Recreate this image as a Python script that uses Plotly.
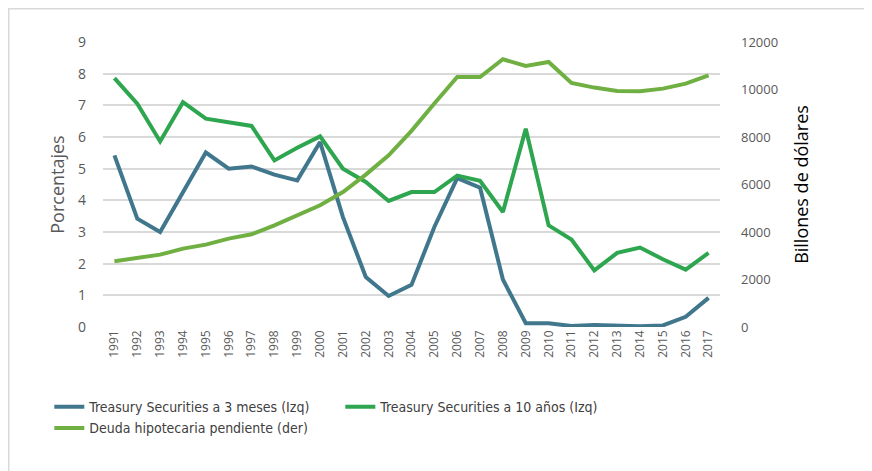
import plotly.graph_objects as go

years = [str(y) for y in range(1991, 2018)]
t3m = [5.42, 3.42, 3.00, 4.26, 5.51, 5.00, 5.07, 4.81, 4.63, 5.84, 3.47, 1.58, 0.98, 1.33,
       3.16, 4.70, 4.40, 1.50, 0.12, 0.12, 0.03, 0.06, 0.04, 0.02, 0.05, 0.32, 0.92]
t10y = [7.86, 7.05, 5.86, 7.10, 6.58, 6.47, 6.35, 5.26, 5.66, 6.02, 5.00, 4.58, 3.98, 4.26,
        4.26, 4.78, 4.62, 3.63, 6.26, 3.21, 2.76, 1.79, 2.34, 2.51, 2.14, 1.81, 2.34]
deuda = [2767, 2906, 3048, 3300, 3469, 3722, 3904, 4283, 4704, 5125, 5685, 6417, 7230, 8260,
         9407, 10528, 10528, 11273, 10991, 11160, 10276, 10080, 9938, 9930, 10037, 10248, 10599]

names = ["Treasury Securities a 3 meses (Izq)",
         "Treasury Securities a 10 años (Izq)",
         "Deuda hipotecaria pendiente (der)"]
colors = ["#41778D", "#2EA64F", "#70B043"]

fig = go.Figure()
fig.add_trace(go.Scatter(x=years, y=t3m, name=names[0], mode="lines",
                         line=dict(color=colors[0], width=4)))
fig.add_trace(go.Scatter(x=years, y=t10y, name=names[1], mode="lines",
                         line=dict(color=colors[1], width=4)))
fig.add_trace(go.Scatter(x=years, y=deuda, name=names[2], mode="lines", yaxis="y2",
                         line=dict(color=colors[2], width=4)))

base = "Open Sans, Noto Sans, sans-serif"

W, H = 872, 471
L, T, R, B = 95, 34, 160, 152
PW, PH = W - L - R, H - T - B

fig.update_layout(
    width=W, height=H,
    margin=dict(l=L, r=R, t=T, b=B, autoexpand=False),
    paper_bgcolor="white", plot_bgcolor="white",
    showlegend=True,
    legend=dict(orientation="h", x=-0.087, xanchor="left", y=-0.225, yanchor="top",
                entrywidth=246, entrywidthmode="pixels",
                font=dict(family="DejaVu Sans Condensed, Liberation Sans Narrow, Roboto, sans-serif",
                          size=14, color="#404040"),
                tracegroupgap=0, itemwidth=30),
    xaxis=dict(type="category", tickangle=-90, automargin=False,
               tickfont=dict(family=base, size=12, color="#595959"),
               showgrid=False, zeroline=False, showline=False, ticks="",
               range=[-0.5, 26.5]),
    yaxis=dict(range=[0, 9], dtick=1, automargin=False,
               tickfont=dict(family=base, size=14, color="#595959"),
               showgrid=True, gridcolor="#D9D9D9", gridwidth=1.5, zeroline=False,
               ticks="", ticklabelstandoff=16,
               title=dict(text="Porcentajes", font=dict(family=base, size=18, color="#595959"),
                          standoff=8)),
    yaxis2=dict(range=[0, 12000], dtick=2000, overlaying="y", side="right", automargin=False,
                tickformat="d",
                tickfont=dict(family=base, size=13, color="#595959"),
                showgrid=False, zeroline=False, ticks="",
                ticklabelstandoff=20,
                title=dict(text="Billones de dólares", font=dict(family=base, size=18, color="#000000"),
                           standoff=18)),
    shapes=[dict(type="rect", xref="paper", yref="paper",
                 x0=(0.5 - L) / PW, x1=(W + 20 - L) / PW,
                 y0=(H - B - (H + 20)) / PH, y1=(H - B - 0.5) / PH,
                 line=dict(color="#D9D9D9", width=2), fillcolor="rgba(0,0,0,0)", layer="below")],
)

fig.write_html("out.html")
